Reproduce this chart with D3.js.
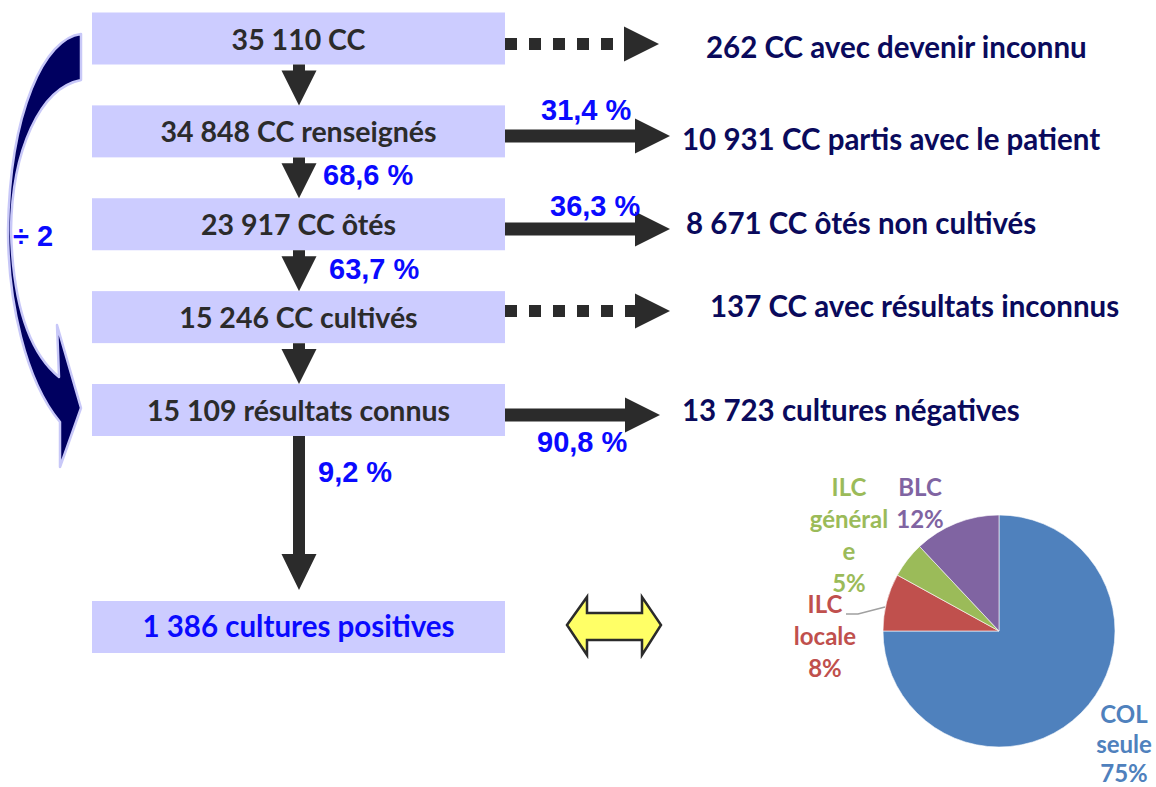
<!DOCTYPE html>
<html>
<head>
<meta charset="utf-8">
<script src="https://cdn.jsdelivr.net/npm/d3@7.9.0/dist/d3.min.js"></script>
<style>
  body { margin: 0; background: #fff; }
  svg { display: block; }
</style>
</head>
<body>
<div id="chart"></div>
<script>
// flow steps (left column) and what leaves at each step (right column)
const steps = ['35 110 CC', '34 848 CC renseignés', '23 917 CC ôtés', '15 246 CC cultivés', '15 109 résultats connus'];
const finalStep = '1 386 cultures positives';
const exits = ['262 CC avec devenir inconnu', '10 931 CC partis avec le patient', '8 671 CC ôtés non cultivés',
  '137 CC avec résultats inconnus', '13 723 cultures négatives'];
const exitKnown = [false, true, true, false, true];
const exitPct = ['', '31,4 %', '36,3 %', '', '90,8 %'];
const downPct = ['', '68,6 %', '63,7 %', '', '9,2 %'];

// pie of positive cultures
const pieNames = ['COL seule', 'ILC locale', 'ILC générale', 'BLC'];
const pieValues = [75, 8, 5, 12];
const pieLines = [['COL', 'seule', '75%'], ['ILC', 'locale', '8%'], ['ILC', 'général', 'e', '5%'], ['BLC', '12%']];

const width = 1156, height = 787;
const svg = d3.select('#chart').append('svg')
  .attr('width', width).attr('height', height);

const boxFont = 'Lato, "Open Sans", sans-serif';
const pctFont = '"Liberation Sans", Arial, sans-serif';
const dark = '#2b2b2b';
const navy = '#0a0a5c';
const blue = '#0a0aff';

const y = d3.scaleLinear().domain([0, steps.length - 1]).range([38.5, 410]);
const finalY = 627;
const box = { x0: 92, x1: 505, h: 52 };
const cx = 298.5;

// curved "÷ 2" arrow on the left
svg.append('path')
  .attr('d', 'M81,34 C45,38 10,110 8,230 C8,300 25,380 60,422 L60,467 L81,408 L57,325 L59,377 ' +
    'C32,355 13,310 11,230 C12,150 40,88 81,80 Z')
  .attr('fill', '#000060')
  .attr('stroke', '#c8c8f8')
  .attr('stroke-width', 2.5)
  .attr('stroke-linejoin', 'round');

svg.append('text')
  .attr('x', 13).attr('y', 246)
  .attr('font-family', pctFont).attr('font-weight', 'bold').attr('font-size', 29)
  .attr('fill', blue)
  .text('÷ 2');

// boxes
const rows = svg.append('g').selectAll('g')
  .data(steps)
  .join('g');

rows.append('rect')
  .attr('x', box.x0).attr('width', box.x1 - box.x0)
  .attr('y', (d, i) => y(i) - box.h / 2).attr('height', box.h)
  .attr('fill', '#ccccff');

rows.append('text')
  .attr('x', cx).attr('y', (d, i) => y(i) + 11)
  .attr('text-anchor', 'middle')
  .attr('font-family', boxFont).attr('font-weight', 'bold').attr('font-size', 28.5)
  .attr('fill', dark)
  .text(d => d);

svg.append('rect')
  .attr('x', box.x0).attr('width', box.x1 - box.x0)
  .attr('y', finalY - box.h / 2).attr('height', box.h)
  .attr('fill', '#ccccff');

svg.append('text')
  .attr('x', cx).attr('y', finalY + 10)
  .attr('text-anchor', 'middle')
  .attr('font-family', boxFont).attr('font-weight', 'bold').attr('font-size', 29.5)
  .attr('fill', blue)
  .text(finalStep);

// downward arrows
function downArrow(x, yTop, yTip, headLen) {
  const sw = 6, hw = 17.5;
  const yh = yTip - headLen;
  return `M${x - sw},${yTop} L${x + sw},${yTop} L${x + sw},${yh} L${x + hw},${yh} L${x},${yTip} ` +
    `L${x - hw},${yh} L${x - sw},${yh} Z`;
}

const arrowX = 299;
const downs = steps.map((d, i) => {
  const top = y(i) + box.h / 2;
  const bottom = i < steps.length - 1 ? y(i + 1) - box.h / 2 : finalY - box.h / 2 - 11;
  return { top, bottom, pct: downPct[i], i, last: i === steps.length - 1 };
});

svg.append('g').selectAll('path')
  .data(downs)
  .join('path')
  .attr('d', d => downArrow(arrowX, d.top, d.bottom, d.last ? 36 : 35))
  .attr('fill', dark);

const downPctPos = [null, [323, 185], [329, 279], null, [318, 482]];
svg.append('g').selectAll('text')
  .data(downs.filter(d => d.pct))
  .join('text')
  .attr('x', d => downPctPos[d.i][0]).attr('y', d => downPctPos[d.i][1])
  .attr('font-family', pctFont).attr('font-weight', 'bold').attr('font-size', 29)
  .attr('fill', blue)
  .text(d => d.pct);

// arrows to the right
const arrowCy = [44, 136, 229, 311, 415];
const arrowTip = [659, 670, 670, 670, 660];
const headLen = 35, headHalf = 17.5, shaftHalf = 6.5;

const right = svg.append('g');
exits.forEach((label, i) => {
  const cy = arrowCy[i], tip = arrowTip[i], hx = tip - headLen;
  right.append('path')
    .attr('d', `M${hx},${cy - headHalf} L${tip},${cy} L${hx},${cy + headHalf} Z`)
    .attr('fill', dark);
  if (exitKnown[i]) {
    right.append('rect')
      .attr('x', box.x1).attr('width', hx - box.x1 + 1)
      .attr('y', cy - shaftHalf).attr('height', shaftHalf * 2)
      .attr('fill', dark);
  } else {
    const xs = d3.range(box.x1, hx - 4, 24);
    right.selectAll(null)
      .data(xs)
      .join('rect')
      .attr('x', d => d).attr('width', d => Math.min(12, hx - d + 1))
      .attr('y', cy - 6).attr('height', 12)
      .attr('fill', dark);
  }
});

const exitX = [706, 682, 686, 710, 682];
const exitBase = [58, 150, 234, 317, 421];
svg.append('g').selectAll('text')
  .data(exits)
  .join('text')
  .attr('x', (d, i) => exitX[i]).attr('y', (d, i) => exitBase[i])
  .attr('font-family', boxFont).attr('font-weight', 'bold').attr('font-size', 29.5)
  .attr('fill', navy)
  .text(d => d);

const exitPctPos = [null, [541, 120], [550, 216], null, [537, 452]];
svg.append('g').selectAll('text')
  .data(exitPct.map((p, i) => ({ p, i })).filter(d => d.p))
  .join('text')
  .attr('x', d => exitPctPos[d.i][0]).attr('y', d => exitPctPos[d.i][1])
  .attr('font-family', pctFont).attr('font-weight', 'bold').attr('font-size', 29)
  .attr('fill', blue)
  .text(d => d.p);

// yellow double arrow
svg.append('path')
  .attr('d', 'M567,625 L587,597 L587,613 L642,613 L642,597 L661,625 L642,655 L642,640 L587,640 L587,655 Z')
  .attr('fill', '#ffff66')
  .attr('stroke', dark)
  .attr('stroke-width', 2.5)
  .attr('stroke-linejoin', 'miter');

// pie
const pieColors = ['#4f81bd', '#c0504d', '#9bbb59', '#8064a2'];
const pieCenter = [999, 631], radius = 116;
const pie = d3.pie().sort(null)(pieValues);
const arc = d3.arc().innerRadius(0).outerRadius(radius);

const pg = svg.append('g').attr('transform', `translate(${pieCenter})`);
pg.selectAll('path')
  .data(pie)
  .join('path')
  .attr('d', arc)
  .attr('fill', (d, i) => pieColors[i])
  .attr('stroke', '#ffffff')
  .attr('stroke-width', 0.6);

// leader line for ILC locale
svg.append('polyline')
  .attr('points', '846,614 858,614 885,607')
  .attr('fill', 'none')
  .attr('stroke', '#a0a0a0')
  .attr('stroke-width', 1.5);

const labelPos = [[1124, 723, 29.5], [825, 613, 32], [849, 496, 32], [920, 496, 32]];
pieLines.forEach((lines, i) => {
  const t = svg.append('text')
    .attr('text-anchor', 'middle')
    .attr('font-family', boxFont).attr('font-weight', 'bold').attr('font-size', 24)
    .attr('fill', pieColors[i])
    .attr('aria-label', pieNames[i]);
  lines.forEach((s, j) => {
    t.append('tspan')
      .attr('x', labelPos[i][0])
      .attr('y', labelPos[i][1] + j * labelPos[i][2])
      .text(s);
  });
});
</script>
</body>
</html>
